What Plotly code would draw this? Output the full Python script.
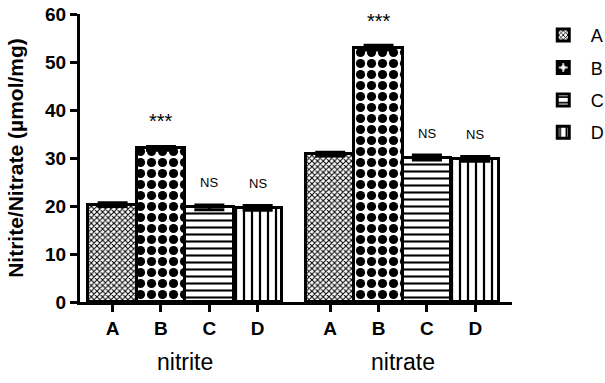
import plotly.graph_objects as go

groups = ["nitrite", "nitrate"]
treatments = ["A", "B", "C", "D"]
values = {
    "A": [20.3, 30.8],
    "B": [32.0, 53.0],
    "C": [19.7, 30.1],
    "D": [19.6, 29.8],
}
errors = {
    "A": [0.4, 0.4],
    "B": [0.4, 0.5],
    "C": [0.5, 0.5],
    "D": [0.5, 0.5],
}
signif = {
    "A": ["", ""],
    "B": ["***", "***"],
    "C": ["NS", "NS"],
    "D": ["NS", "NS"],
}
group_offset = [0.0, 4.5]
patterns = {
    "A": dict(shape="x", size=4, solidity=0.45),
    "B": dict(shape=".", size=11, solidity=0.55),
    "C": dict(shape="-", size=7, solidity=0.3),
    "D": dict(shape="|", size=8, solidity=0.28),
}

fig = go.Figure()
tickvals, ticktext = [], []
for gi, g in enumerate(groups):
    for ti, t in enumerate(treatments):
        tickvals.append(group_offset[gi] + ti)
        ticktext.append(t)

for ti, t in enumerate(treatments):
    xs = [group_offset[gi] + ti for gi in range(len(groups))]
    p = patterns[t]
    fig.add_trace(go.Bar(
        x=xs, y=values[t], name=t, width=1.0, legendgroup=t,
        marker=dict(color="white", line=dict(color="black", width=3),
                    pattern=dict(shape=p["shape"], size=p["size"], solidity=p["solidity"],
                                 fgcolor="black", bgcolor="white", fillmode="replace")),
        error_y=dict(type="data", array=errors[t], color="black", thickness=3, width=15, visible=True),
    ))
    for gi in range(len(groups)):
        s = signif[t][gi]
        if s:
            fig.add_annotation(
                x=xs[gi], y=values[t][gi], yanchor="bottom", yshift=14 if s == "***" else 15,
                text=s, showarrow=False,
                font=dict(family="Liberation Sans", size=20 if s == "***" else 13, color="black"),
            )

group_centers = [group_offset[gi] + 1.5 for gi in range(len(groups))]
for gi, g in enumerate(groups):
    fig.add_annotation(x=group_centers[gi], xref="x", y=-0.21, yref="paper",
                       text=g, showarrow=False, yanchor="middle",
                       font=dict(family="Liberation Sans", size=23, color="black"))

fig.update_layout(
    width=605, height=383,
    margin=dict(l=80, r=93, t=14, b=81, autoexpand=False),
    paper_bgcolor="white", plot_bgcolor="white",
    bargap=0, barmode="overlay",
    showlegend=True,
    legend=dict(x=1.055, y=0.99, xanchor="left", yanchor="top", traceorder="grouped",
                font=dict(family="Liberation Sans", size=18, color="black"),
                tracegroupgap=6, itemwidth=45),
    font=dict(family="Liberation Sans", color="black"),
)
fig.update_xaxes(
    range=[-0.675, 8.26], tickvals=tickvals, ticktext=ticktext,
    showline=True, linecolor="black", linewidth=3,
    ticks="outside", ticklen=7, tickwidth=3, tickcolor="black",
    showgrid=False, zeroline=False,
    tickfont=dict(family="Liberation Sans", size=19, color="black", weight="bold"),
)
fig.update_yaxes(
    range=[0, 60], dtick=10, tick0=0,
    showline=True, linecolor="black", linewidth=3,
    ticks="outside", ticklen=7, tickwidth=3, tickcolor="black",
    showgrid=False, zeroline=False,
    tickfont=dict(family="Liberation Sans", size=19, color="black", weight="bold"),
    title=dict(text="Nitrite/Nitrate (µmol/mg)", standoff=16,
               font=dict(family="Liberation Sans", size=21, color="black", weight="bold")),
)

fig.write_html("out.html", config={"displayModeBar": False},
               post_script="document.body.style.margin='0';document.body.style.overflow='hidden';")
